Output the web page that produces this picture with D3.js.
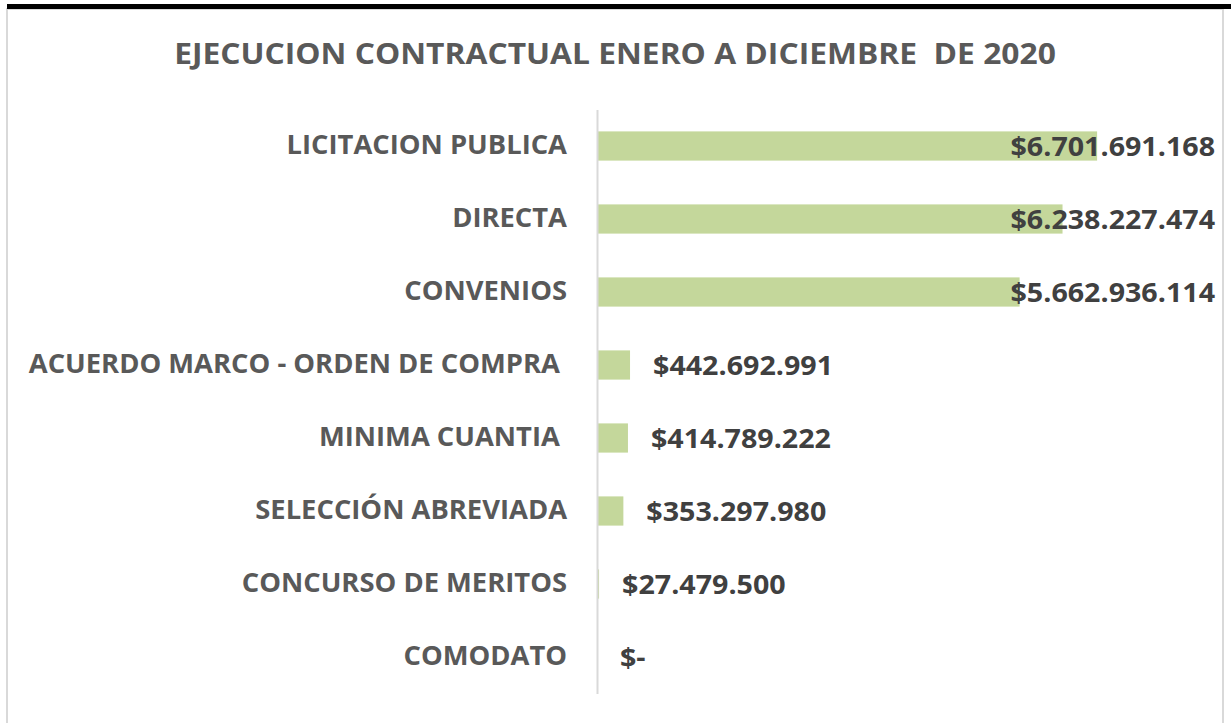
<!DOCTYPE html>
<meta charset="utf-8">
<head>
<style>
  body { margin: 0; background: #fff; }
  text { font-family: "Open Sans", "Noto Sans", sans-serif; font-weight: bold; white-space: pre; }
</style>
<script src="https://cdn.jsdelivr.net/npm/d3@7"></script>
</head>
<body>
<div id="vis"></div>
<script>
// data
var categories = ["LICITACION PUBLICA", "DIRECTA", "CONVENIOS", "ACUERDO MARCO - ORDEN DE COMPRA ",
                  "MINIMA CUANTIA ", "SELECCIÓN ABREVIADA", "CONCURSO DE MERITOS", "COMODATO"];
var values = [6701691168, 6238227474, 5662936114, 442692991, 414789222, 353297980, 27479500, 0];
var xMax = 8000000000;
var title = "EJECUCION CONTRACTUAL ENERO A DICIEMBRE  DE 2020";

var width = 1231, height = 723;

var svg = d3.select("#vis").append("svg")
    .attr("width", width).attr("height", height);

// frame: black top rule + grey chart border
svg.append("rect").attr("x", 7).attr("y", 9).attr("width", 1216).attr("height", 720)
    .attr("fill", "#fff").attr("stroke", "#d9d9d9").attr("stroke-width", 2);
svg.append("rect").attr("x", 7).attr("y", 4).attr("width", width - 7).attr("height", 5)
    .attr("fill", "#000");

var margin = {top: 109.5, left: 597, bottom: 29.5, right: 37};

var x = d3.scaleLinear().domain([0, xMax]).range([margin.left, width - margin.right]);
var y = d3.scaleBand().domain(categories)
    .range([margin.top, height - margin.bottom])
    .paddingInner(0.6).paddingOuter(0.3);

var locale = d3.formatLocale({decimal: ",", thousands: ".", grouping: [3], currency: ["$", ""]});
var fmt = locale.format("$,.0f");
function money(v) { return v === 0 ? "$-" : fmt(v); }

// open sans is shaped a bit different from calibri, so stretch/squeeze the width
function squash(k) {
  return function(sel) {
    sel.each(function() {
      var len = this.getComputedTextLength();
      d3.select(this).attr("textLength", len * k).attr("lengthAdjust", "spacingAndGlyphs");
    });
  };
}

// title
svg.append("text")
    .attr("x", 615).attr("y", 64)
    .attr("text-anchor", "middle")
    .attr("font-size", 28)
    .attr("fill", "#595959")
    .text(title)
    .call(squash(1.135));

// bars
svg.selectAll(".bar").data(values).enter().append("rect")
    .attr("class", "bar")
    .attr("x", x(0))
    .attr("y", function(d, i) { return y(categories[i]); })
    .attr("width", function(d) { return x(d) - x(0); })
    .attr("height", y.bandwidth())
    .attr("fill", "#c4d79b");

// category axis
var axis = svg.append("g")
    .attr("transform", "translate(" + margin.left + ",0)")
    .call(d3.axisLeft(y).tickSize(0).tickPadding(30));
axis.attr("font-family", null);
axis.select(".domain").attr("stroke", "#d9d9d9").attr("stroke-width", 2);
axis.selectAll("text")
    .attr("font-size", 27.5)
    .attr("fill", "#595959")
    .attr("dy", "0.3em")
    .call(squash(0.995));

// value labels
var labelRight = 1215;
svg.selectAll(".val").data(values).enter().append("text")
    .attr("class", "val")
    .attr("y", function(d, i) { return y(categories[i]) + y.bandwidth() / 2; })
    .attr("dy", "0.36em")
    .attr("font-size", 27)
    .attr("fill", "#404040")
    .text(function(d) { return money(d); })
    .call(squash(1.06))
    .attr("x", function(d) {
      var w = +d3.select(this).attr("textLength");
      return Math.min(x(d) + 23, labelRight - w);
    });
</script>
</body>
